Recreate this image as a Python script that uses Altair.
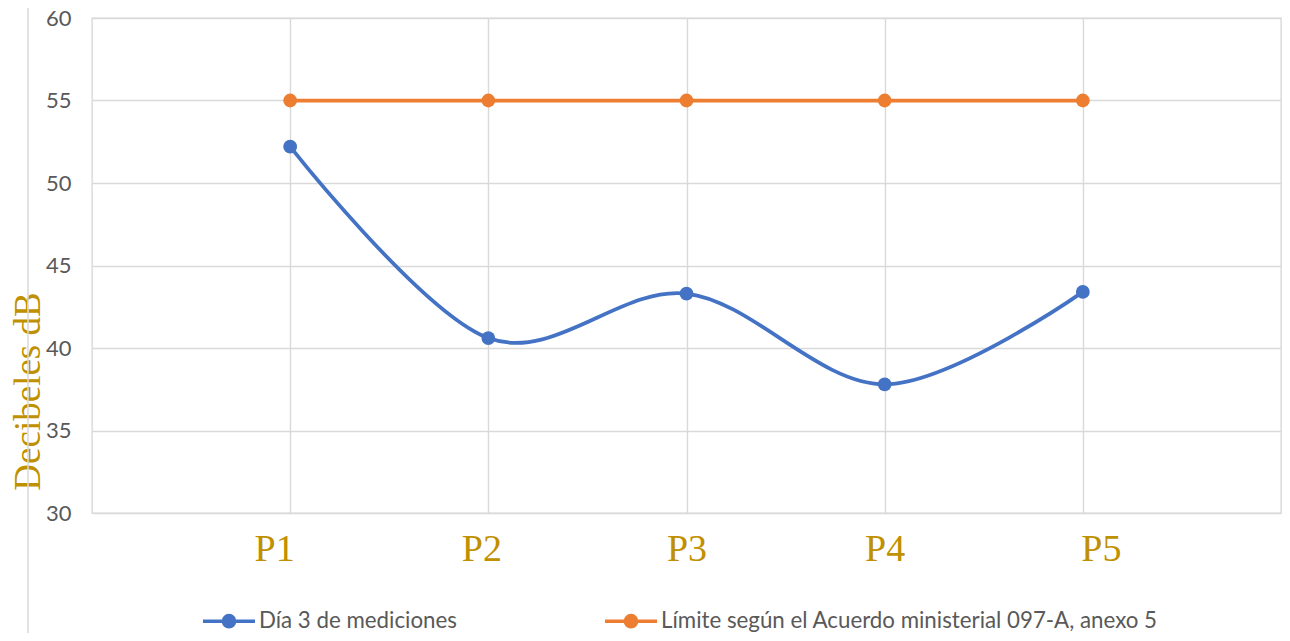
import altair as alt
import pandas as pd

categories = ["P1", "P2", "P3", "P4", "P5"]
dia3_values = [52.2, 40.6, 43.3, 37.8, 43.4]
limite_values = [55, 55, 55, 55, 55]
series_names = ["Día 3 de mediciones", "Límite según el Acuerdo ministerial 097-A, anexo 5"]
series_colors = ["#4472C4", "#ED7D31"]
y_ticks = [30, 35, 40, 45, 50, 55, 60]

rows = []
for c, v in zip(categories, dia3_values):
    rows.append({"punto": c, "db": v, "serie": series_names[0]})
for c, v in zip(categories, limite_values):
    rows.append({"punto": c, "db": v, "serie": series_names[1]})
df = pd.DataFrame(rows)

grid = "#D9D9D9"

x_enc = alt.X(
    "punto:N",
    sort=categories,
    scale=alt.Scale(type="point", padding=1),
    axis=alt.Axis(
        title=None,
        domain=False,
        ticks=False,
        grid=True,
        gridColor=grid,
        gridWidth=1.4,
        labelFont="Liberation Serif",
        labelFontSize=38,
        labelColor="#BF9000",
        labelAngle=0,
        labelBaseline="alphabetic",
        labelPadding=47,
        labelOffset={
            "condition": [
                {"test": "datum.value == 'P1'", "value": -16},
                {"test": "datum.value == 'P2'", "value": -7},
                {"test": "datum.value == 'P5'", "value": 18},
            ],
            "value": 0,
        },
    ),
)

y_enc = alt.Y(
    "db:Q",
    scale=alt.Scale(domain=[30, 60], nice=False, zero=False),
    axis=alt.Axis(
        values=y_ticks,
        title="Decibeles dB",
        titleFont="Liberation Serif",
        titleFontSize=37,
        titleFontWeight="normal",
        titleColor="#BF9000",
        titleAngle=270,
        titleAlign="center",
        titleBaseline="alphabetic",
        titleX=-53,
        titleY=373,
        domain=False,
        ticks=False,
        grid=True,
        gridColor=grid,
        gridWidth=1.4,
        labelFont="Lato",
        labelFontSize=22,
        labelColor="#595959",
        labelPadding=21,
        labelBaseline="middle",
    ),
)

# symbol: a horizontal stroke plus concentric rings that read as a filled dot
legend_symbol = (
    "M-1,0L1,0 "
    "M-0.046,0A0.046,0.046 0 1,0 0.046,0A0.046,0.046 0 1,0 -0.046,0Z "
    "M-0.146,0A0.146,0.146 0 1,0 0.146,0A0.146,0.146 0 1,0 -0.146,0Z "
    "M-0.215,0A0.215,0.215 0 1,0 0.215,0A0.215,0.215 0 1,0 -0.215,0Z"
)

legend = alt.Legend(
    title=None,
    orient="none",
    legendX=109,
    legendY=575,
    direction="horizontal",
    symbolType=legend_symbol,
    symbolSize=2704,
    symbolStrokeWidth=3.5,
    labelFont="Lato",
    labelFontSize=22.3,
    labelColor="#595959",
    labelOffset=2,
    columnPadding=141,
    padding=0,
    labelLimit=0,
)

color_enc = alt.Color(
    "serie:N",
    scale=alt.Scale(domain=series_names, range=series_colors),
    legend=legend,
)

base = alt.Chart(df)

lines = base.mark_line(interpolate="cardinal", strokeWidth=3.75).encode(
    x=x_enc, y=y_enc, color=color_enc, detail="serie:N"
)
points = base.mark_point(filled=True, size=190, opacity=1).encode(
    x=x_enc, y=y_enc, color=color_enc
)

border = alt.Chart(pd.DataFrame({"a": [0]})).mark_rule(color=grid, strokeWidth=1.5).encode(
    x=alt.value(-64), y=alt.value(-10), y2=alt.value(625)
)

chart = (
    alt.layer(border, lines, points)
    .properties(
        width=1189,
        height=495,
        autosize=alt.AutoSizeParams(type="none"),
        padding={"left": 84, "top": 10, "right": 1, "bottom": 120},
        background="white",
    )
    .configure_view(stroke=grid, strokeWidth=1.4)
)

chart.save("out.html", embed_options={"renderer": "svg", "actions": False})
